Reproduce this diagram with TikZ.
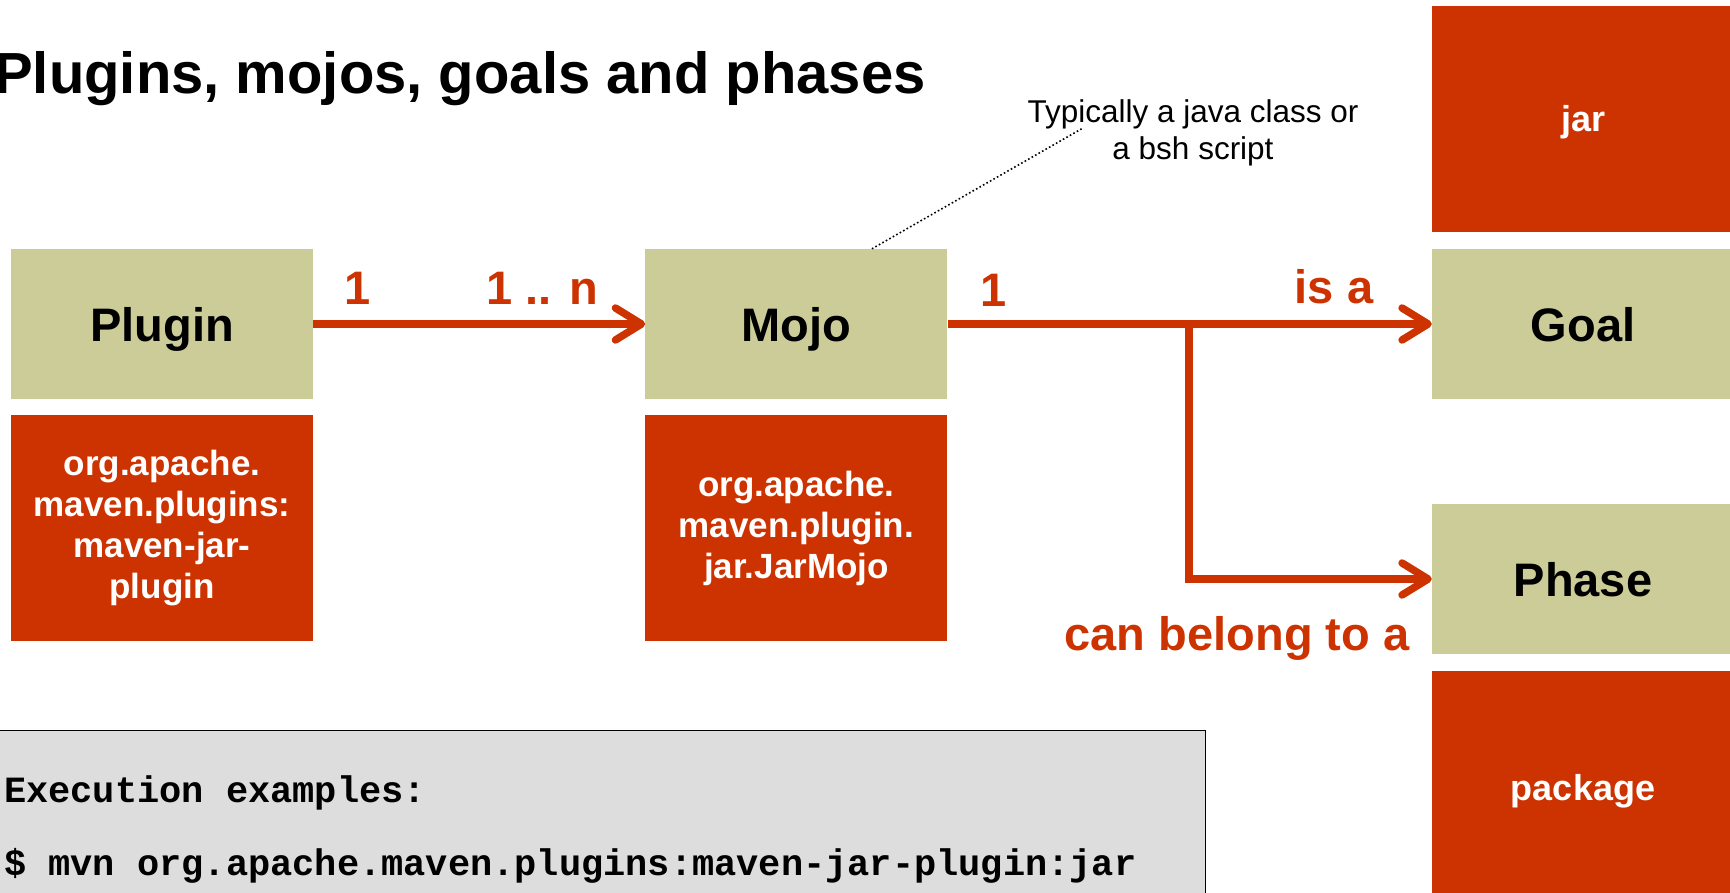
\documentclass[tikz,border=0pt]{standalone}
\usepackage{fontspec}
\setmainfont{Liberation Sans}
\setmonofont{Liberation Mono}
\usetikzlibrary{positioning,arrows.meta}

\definecolor{mavenred}{HTML}{CC3300}
\definecolor{khaki}{HTML}{CCCC99}
\definecolor{codegray}{HTML}{DDDDDD}

\begin{document}
\begin{tikzpicture}[
x=1pt,y=1pt,
node distance=16pt,
concept/.style={fill=khaki,minimum width=302pt,minimum height=150pt,
inner sep=0pt,text depth=0pt,font=\fontsize{47}{56}\selectfont\bfseries},
detail/.style={fill=mavenred,text=white,minimum width=302pt,
minimum height=226pt,inner sep=0pt,align=center,
font=\fontsize{35}{41}\selectfont\bfseries},
rel/.style={text=mavenred,inner sep=0pt,
font=\fontsize{47}{56}\selectfont\bfseries},
link/.style={draw=mavenred,line width=7.5pt,
-{Straight Barb[length=26pt,width=32pt,round]}}]

\useasboundingbox (0,0) rectangle (1730,-893);

\node (title) [anchor=base west,inner sep=0pt,
font=\fontsize{58}{64}\selectfont\bfseries] at (-6,-94)
{Plugins, mojos, goals and phases};

\node (plugin) [concept] at (162,-324) {Plugin};

\node (pluginid) [detail,below=of plugin]
{org.apache.\\maven.plugins:\\maven-jar-\\plugin};

\node (mojo) [concept,right=332pt of plugin] {Mojo};

\node (mojoid) [detail,below=of mojo]
{org.apache.\\maven.plugin.\\jar.JarMojo};

\node (goal) [concept] at (1583,-324) {Goal};

\node (jar) [detail,above=17pt of goal,text depth=0pt,
font=\fontsize{36}{42}\selectfont\bfseries] {jar};

\node (phase) [concept] at (1583,-579) {Phase};

\node (package) [detail,below=17pt of phase,minimum height=240pt,
font=\fontsize{36}{42}\selectfont\bfseries] {package};

\node (note) [inner sep=0pt,align=center,
font=\fontsize{31.5}{37}\selectfont] at (1193,-133)
{Typically a java class or\\a bsh script};

\draw[line width=1.6pt,dash pattern=on 1.6pt off 2.4pt]
([xshift=75.5pt]mojo.north) -- ([shift={(-110pt,5pt)}]note.center);

% multiplicities and roles
\node (pluginone) [rel] at (358,-288) {1};
\node (mojomany) [rel] at (542,-288) {1 .. n};
\node (mojoone) [rel] at (994,-290) {1};
\node (isa) [rel] at (1334,-287) {is a};
\node (belongs) [rel] at (1237,-638) {can belong to a};

\coordinate (fork) at (1189,-324);

\draw[link] (plugin) -- (mojo);
\draw[link] (mojo) -- (goal);
\draw[link] (fork) |- (phase);

% execution examples
\node (exec) [fill=codegray,anchor=north west,minimum width=1207pt,
minimum height=170pt,inner sep=0pt] at (-2,-730) {};
\draw[line width=1pt] (exec.north west) -- (exec.north east)
-- (exec.south east);

\node (execlabel) [anchor=base west,inner sep=0pt,
font=\fontsize{37}{40}\selectfont\ttfamily\bfseries] at (4,-802)
{Execution examples:};

\node (execcmd) [anchor=base west,inner sep=0pt,
font=\fontsize{37}{40}\selectfont\ttfamily\bfseries] at (4,-875)
{\$ mvn org.apache.maven.plugins:maven-jar-plugin:jar};

\end{tikzpicture}
\end{document}
